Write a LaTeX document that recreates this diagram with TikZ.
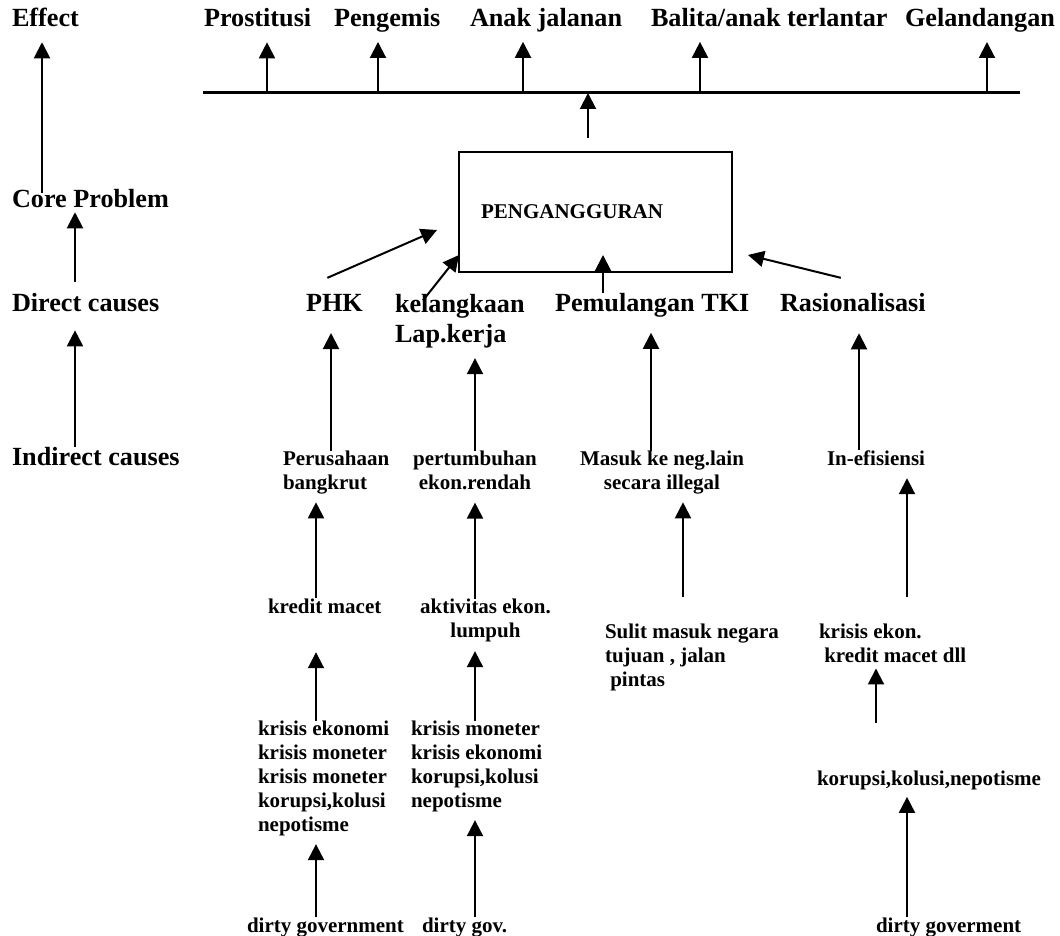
\documentclass[tikz,border=0pt]{standalone}
\usepackage{fontspec}
\setmainfont{Liberation Serif}
\usetikzlibrary{arrows.meta,calc}

\newcommand{\bigfnt}{\fontsize{13.1}{15}\selectfont\bfseries}
\newcommand{\smallfnt}{\fontsize{10.5}{12}\selectfont\bfseries}

\begin{document}
\begin{tikzpicture}[x=0.5pt, y=-0.5pt, line width = 1pt]
\tikzstyle{every node}=[inner sep=0pt, outer sep=0pt];
\tikzstyle{big}=[font=\bigfnt, anchor=base west];
\tikzstyle{small}=[font=\smallfnt, anchor=base west];
\tikzstyle{up}=[-{Triangle[length=8pt,width=8pt]}];

\useasboundingbox (0,0) rectangle (1060,936);

% levels
\draw(12,27) node[big] (Effect) {Effect};
\draw(12,208) node[big] (Core) {Core Problem};
\draw(12,312) node[big] (Direct) {Direct causes};
\draw(12,465) node[big] (Indirect) {Indirect causes};

% effects
\draw(204,27) node[big] (Prost) {Prostitusi};
\draw(334,27) node[big] (Pengemis) {Pengemis};
\draw(470,27) node[big] (Anak) {Anak jalanan};
\draw(651,27) node[big] (Balita) {Balita/anak terlantar};
\draw(905,27) node[big] (Gelandang) {Gelandangan};

% core problem
\draw(595.5,212) node[draw, minimum width=136.5pt, minimum height=60pt,
  text width=114.5pt, align=left, font=\smallfnt] (Box) {PENGANGGURAN};

% direct causes
\draw(306,312) node[big] (PHK) {PHK};
\draw(395,294.4) node[big, anchor=north west, align=left] (Langka) {kelangkaan\\Lap.kerja};
\draw(555,312) node[big] (TKI) {Pemulangan TKI};
\draw(780,312) node[big] (Rasio) {Rasionalisasi};

% indirect causes
\draw(283,450.7) node[small, anchor=north west, align=left] (Perus) {Perusahaan\\bangkrut};
\draw(475,450.7) node[small, anchor=north, align=center] (Tumbuh) {pertumbuhan\\ekon.rendah};
\draw(662,450.7) node[small, anchor=north, align=center] (Masuk) {Masuk ke neg.lain\\secara illegal};
\draw(827,465) node[small] (Inef) {In-efisiensi};

\draw(268,613) node[small] (Kredit) {kredit macet};
\draw(485.5,598.7) node[small, anchor=north, align=center] (Aktif) {aktivitas ekon.\\lumpuh};
\draw(605,623.7) node[small, anchor=north west, align=left] (Sulit) {Sulit masuk negara\\tujuan , jalan\\\ pintas};
\draw(819,623.7) node[small, anchor=north west, align=left] (KrisisE) {krisis ekon.\\\ kredit macet dll};

\draw(258,720.7) node[small, anchor=north west, align=left] (KrisisL) {krisis ekonomi\\krisis moneter\\krisis moneter\\korupsi,kolusi\\nepotisme};
\draw(411,720.7) node[small, anchor=north west, align=left] (KrisisR) {krisis moneter\\krisis ekonomi\\korupsi,kolusi\\nepotisme};
\draw(817,785) node[small] (KKN) {korupsi,kolusi,nepotisme};

\draw(247,932) node[small] (DirtyL) {dirty government};
\draw(422,932) node[small] (DirtyM) {dirty gov.};
\draw(876,932) node[small] (DirtyR) {dirty goverment};

% columns of the arrows
\coordinate (cE) at (42,0);
\coordinate (cL) at (75,0);
\coordinate (c1) at (331,0);
\coordinate (c1b) at (316,0);
\coordinate (c2) at (475,0);
\coordinate (c3) at (651,0);
\coordinate (c3b) at (683,0);
\coordinate (c4) at (859,0);
\coordinate (c4b) at (907,0);
\coordinate (c4c) at (876,0);

% effect line
\coordinate (LineL) at (203,93);
\coordinate (LineR) at (1020,93);
\draw[line width=1.5pt] (LineL) -- (LineR);
\coordinate (a1) at (267,93);
\coordinate (a2) at (378,93);
\coordinate (a3) at (523,93);
\coordinate (a4) at (700,93);
\coordinate (a5) at (987,93);
\draw[up, shorten >=7.5pt] (a1) -- (a1 |- Prost.south);
\draw[up, shorten >=4.6pt] (a2) -- (a2 |- Pengemis.south);
\draw[up, shorten >=4.6pt] (a3) -- (a3 |- Anak.south);
\draw[up, shorten >=7.3pt] (a4) -- (a4 |- Balita.south);
\draw[up, shorten >=4.6pt] (a5) -- (a5 |- Gelandang.south);
\coordinate (bt) at ($(Box.north)+(-7.5,-14)$);
\draw[up] (bt) -- (bt |- LineL);

% left column
\draw[up, shorten <=-1.7pt, shorten >=7.5pt] (Core.north -| cE) -- (Effect.south -| cE);
\draw[up, shorten <=6pt, shorten >=2pt] (Direct.north -| cL) -- (Core.south -| cL);
\draw[up, shorten >=9pt] (Indirect.north -| cL) -- (Direct.south -| cL);

% into the core problem
\draw[up] ($(PHK.north)+(-7,-17)$) -- ($(Box.south west)+(-22,-42)$);
\draw[up] ($(Langka.north west)+(28,6)$) -- ($(Box.south west)+(0,-17)$);
\draw[up] ($(TKI.north west)+(48,-1)$) -- ($(Box.south)+(7.5,-17)$);
\draw[up] ($(Rasio.north)+(-12,-16)$) -- ($(Box.south east)+(16,-17)$);

% causes
\draw[up, shorten >=10.5pt] (Perus.north -| c1) -- (PHK.south -| c1);
\draw[up, shorten >=5pt] (Tumbuh.north -| c2) -- (Langka.south -| c2);
\draw[up, shorten >=7.5pt] (Masuk.north -| c3) -- (TKI.south -| c3);
\draw[up, shorten >=10.5pt] (Inef.north -| c4) -- (Rasio.south -| c4);

\draw[up, shorten >=4.2pt] (Kredit.north -| c1b) -- (Perus.south -| c1b);
\draw[up, shorten >=6.5pt] (Aktif.north -| c2) -- (Tumbuh.south -| c2);
\draw[up, shorten <=13.5pt, shorten >=4.2pt] (Sulit.north -| c3b) -- (Masuk.south -| c3b);
\draw[up, shorten <=13.5pt, shorten >=6.5pt] (KrisisE.north -| c4b) -- (Inef.south -| c4b);

\draw[up, shorten >=19.5pt] (KrisisL.north -| c1b) -- (Kredit.south -| c1b);
\draw[up, shorten >=4.7pt] (KrisisR.north -| c2) -- (Aktif.south -| c2);
\draw[up, shorten <=23.7pt, shorten >=3pt] (KKN.north -| c4c) -- (KrisisE.south -| c4c);

\draw[up, shorten >=4.2pt] (DirtyL.north -| c1b) -- (KrisisL.south -| c1b);
\draw[up, shorten >=4.2pt] (DirtyM.north -| c2) -- (KrisisR.south -| c2);
\draw[up, shorten >=3.7pt] (DirtyR.north -| c4b) -- (KKN.south -| c4b);
\end{tikzpicture}
\end{document}
